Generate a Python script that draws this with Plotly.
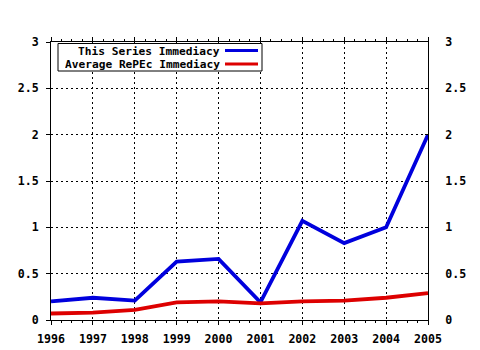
import plotly.graph_objects as go

years = [1996, 1997, 1998, 1999, 2000, 2001, 2002, 2003, 2004, 2005]
series_immediacy = [0.20, 0.24, 0.21, 0.63, 0.66, 0.19, 1.07, 0.83, 1.00, 2.00]
repec_immediacy = [0.07, 0.08, 0.11, 0.19, 0.20, 0.18, 0.20, 0.21, 0.24, 0.29]
names = ["This Series Immediacy", "Average RePEc Immediacy"]
colors = ["#0000dd", "#dd0000"]
y_ticks = [0, 0.5, 1, 1.5, 2, 2.5, 3]
y_labels = ["0", "0.5", "1", "1.5", "2", "2.5", "3"]

FONT = dict(family="DejaVu Sans Mono", size=11.6, color="black")
LFONT = dict(family="DejaVu Sans Mono", size=11.2, color="black")

fig = go.Figure()
for vals, name, col in zip([series_immediacy, repec_immediacy], names, colors):
    fig.add_trace(go.Scatter(x=years, y=vals, mode="lines", name=name,
                             line=dict(color=col, width=3.8), showlegend=False))
fig.add_trace(go.Scatter(x=years, y=repec_immediacy, yaxis="y2", mode="lines",
                         line=dict(width=0), hoverinfo="skip", showlegend=False))

GRID = dict(showgrid=True, gridcolor="black", griddash="2px,3px", gridwidth=1)

fig.update_layout(
    width=480, height=350,
    margin=dict(l=51, r=52, t=42, b=30),
    paper_bgcolor="white", plot_bgcolor="white",
    font=FONT,
    xaxis=dict(range=[1996, 2005], tickvals=years, ticktext=[f"<b>{y}</b>" for y in years],
               **GRID, automargin=False,
               showline=True, linecolor="black", linewidth=1, mirror="ticks",
               ticks="outside", ticklen=4, tickcolor="black", zeroline=False,
               ticklabelstandoff=4,
               minor=dict(dtick=0.25, ticks="outside", ticklen=2, tickcolor="black", showgrid=False),
               tickfont=FONT),
    yaxis=dict(range=[0, 3], tickvals=y_ticks, ticktext=[f"<b>{t}</b>" for t in y_labels],
               **GRID, automargin=False,
               showline=True, linecolor="black", linewidth=1,
               ticks="outside", ticklen=4, tickcolor="black", zeroline=False,
               ticklabelstandoff=5,
               tickfont=FONT),
    yaxis2=dict(range=[0, 3], overlaying="y", side="right", tickvals=y_ticks,
                ticktext=[f"<b>{t}</b>" for t in y_labels], showgrid=False,
                automargin=False,
                showline=True, linecolor="black", linewidth=1,
                ticks="inside", ticklen=3, tickcolor="black", zeroline=False,
                ticklabelstandoff=14,
                tickfont=FONT),
)

# manual legend (text right-aligned, sample line on the right)
fig.add_shape(type="rect", xref="paper", yref="paper", x0=7/377, x1=211/377,
              y0=1 - 29/278, y1=1 - 1.5/278, line=dict(color="black", width=1),
              fillcolor="white", layer="above")
for i, (name, col) in enumerate(zip(names, colors)):
    yc = 1 - (8.5 + 13.5 * i) / 278
    fig.add_annotation(xref="paper", yref="paper", x=170/377, y=yc, text=f"<b>{name}</b>",
                       showarrow=False, xanchor="right", yanchor="middle", font=LFONT,
                       borderpad=0, height=12)
    fig.add_shape(type="line", xref="paper", yref="paper", x0=174/377, x1=207/377,
                  y0=yc, y1=yc, line=dict(color=col, width=3), layer="above")

fig.write_html("out.html")
